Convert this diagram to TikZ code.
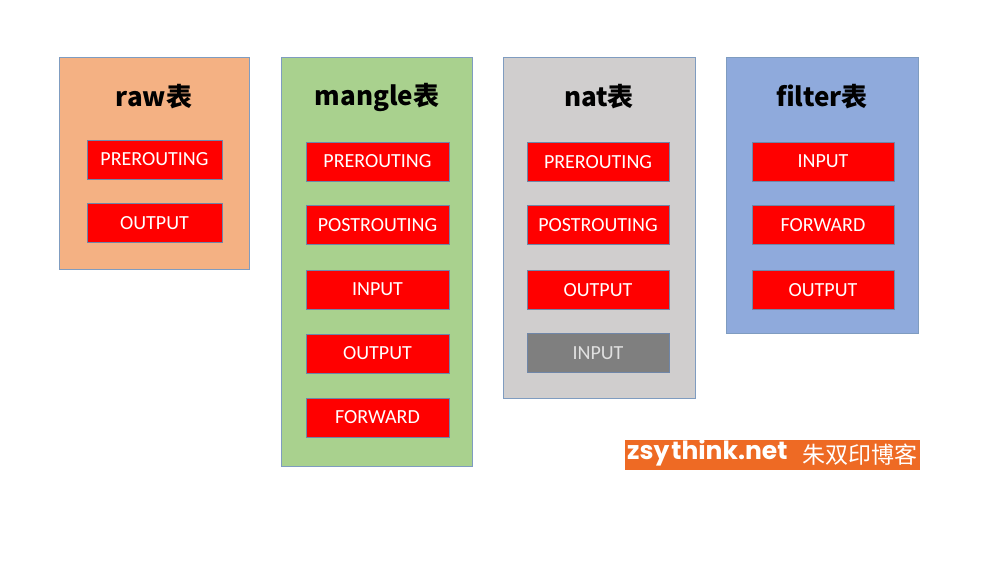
\documentclass[tikz,border=0pt]{standalone}
\usepackage{fontspec}
\setmainfont{Carlito}
\newfontfamily\cjk{Noto Sans CJK SC}
\newfontfamily\wmfont{Poppins}
\definecolor{boxline}{HTML}{7F9CC0}
\definecolor{btnline}{HTML}{6F86A8}
\definecolor{rawfill}{HTML}{F4B183}
\definecolor{manglefill}{HTML}{A9D18E}
\definecolor{natfill}{HTML}{D0CECE}
\definecolor{filterfill}{HTML}{8FAADC}
\definecolor{chainred}{HTML}{FF0000}
\definecolor{chaingray}{HTML}{7F7F7F}
\definecolor{wmorange}{HTML}{EE6A24}
\tikzset{
  tablebox/.style={draw=boxline, line width=1pt, inner sep=0pt},
  tabletitle/.style={font=\cjk\bfseries\fontsize{26}{26}\selectfont, text=black, inner sep=0pt},
  chainbox/.style={draw=btnline, line width=0.8pt, fill=chainred, text=white, inner sep=0pt,
    minimum height=39pt, font=\fontsize{20}{20}\selectfont},
}
\begin{document}
\begin{tikzpicture}[x=1pt,y=-1pt]
\fill[white] (0,0) rectangle (1002,583);
\useasboundingbox (0,0) rectangle (1002,583);
% tables
\node[tablebox, fill=rawfill, minimum width=190pt, minimum height=211pt] (raw) at (154,163.5) {};
\node[tablebox, fill=manglefill, minimum width=191pt, minimum height=408pt] (mangle) at (376.5,262) {};
\node[tablebox, fill=natfill, minimum width=192pt, minimum height=340pt] (nat) at (599,228) {};
\node[tablebox, fill=filterfill, minimum width=192pt, minimum height=275pt] (filter) at (822,195.5) {};
% titles
\node[tabletitle] (rawt) at (154,97) {raw表};
\node[tabletitle] (manglet) at (377,97) {mangle表};
\node[tabletitle] (natt) at (599,97) {nat表};
\node[tabletitle] (filtert) at (822,97) {filter表};
% raw chains
\node[chainbox, minimum width=135pt] (raw1) at (154.5,159.5) {PREROUTING};
\node[chainbox, minimum width=135pt] (raw2) at (154.5,223) {OUTPUT};
% mangle chains
\node[chainbox, minimum width=143pt] (m1) at (377.5,161.5) {PREROUTING};
\node[chainbox, minimum width=143pt] (m2) at (377.5,225) {POSTROUTING};
\node[chainbox, minimum width=143pt] (m3) at (377.5,289.5) {INPUT};
\node[chainbox, minimum width=143pt] (m4) at (377.5,353.5) {OUTPUT};
\node[chainbox, minimum width=143pt] (m5) at (377.5,417.5) {FORWARD};
% nat chains
\node[chainbox, minimum width=142pt] (n1) at (598,162) {PREROUTING};
\node[chainbox, minimum width=142pt] (n2) at (598,225) {POSTROUTING};
\node[chainbox, minimum width=142pt] (n3) at (598,290) {OUTPUT};
\node[chainbox, minimum width=142pt, fill=chaingray, text=white!88!black] (n4) at (598,353) {INPUT};
% filter chains
\node[chainbox, minimum width=142pt] (f1) at (823,161.5) {INPUT};
\node[chainbox, minimum width=142pt] (f2) at (823,225) {FORWARD};
\node[chainbox, minimum width=142pt] (f3) at (823,290) {OUTPUT};
% watermark
\node[fill=wmorange, minimum width=295pt, minimum height=30pt, inner sep=0pt] (wm) at (772.5,454.5) {};
\node[text=white, inner sep=0pt, anchor=west, font=\wmfont\bfseries\fontsize{25}{25}\selectfont] (wmt) at (627,453) {zsy\kern2pt think.net};
\node[text=white, inner sep=0pt, anchor=east, font=\cjk\fontsize{23}{23}\selectfont] (wmc) at (918,455) {朱双印博客};
\end{tikzpicture}
\end{document}
